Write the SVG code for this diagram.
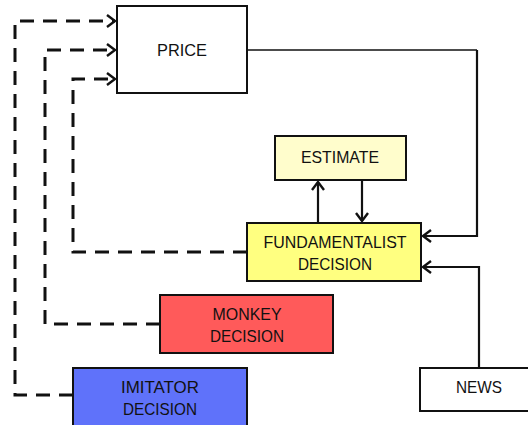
<svg xmlns="http://www.w3.org/2000/svg" width="528" height="425" viewBox="0 0 528 425">
  <defs>
    <style>
      .box { stroke: #111; stroke-width: 2; }
      .label { font-family: "Liberation Sans", Arial, sans-serif; font-size: 16.5px; fill: #111; text-anchor: middle; dominant-baseline: central; }
      .solid { fill: none; stroke: #111; stroke-width: 2.2; }
      .thin { stroke-width: 1.6; }
      .dashed { fill: none; stroke: #111; stroke-width: 3; stroke-dasharray: 14 9; }
    </style>
    <marker id="chev" markerUnits="userSpaceOnUse" viewBox="0 0 12 14" refX="10" refY="7" markerWidth="12" markerHeight="14" orient="auto">
      <path d="M2,1 L10,7 L2,13" fill="none" stroke="#111" stroke-width="2.4" stroke-dasharray="none"/>
    </marker>
  </defs>
  <rect width="528" height="425" fill="#fff"/>

  <!-- connectors -->
  <g id="connectors">
    <!-- feedback from each decision to price -->
    <path class="dashed" d="M73,395 H15 V21 H115" marker-end="url(#chev)"/>
    <path class="dashed" d="M160,324 H45 V50 H115" marker-end="url(#chev)"/>
    <path class="dashed" d="M247,252 H73 V79 H115" marker-end="url(#chev)"/>
    <!-- price to fundamentalist -->
    <path class="solid thin" d="M247,50 H477"/>
    <path class="solid" d="M477,50 V236 H423" marker-end="url(#chev)"/>
    <!-- news to fundamentalist -->
    <path class="solid" d="M479,368 V267 H423" marker-end="url(#chev)"/>
    <!-- fundamentalist <-> estimate -->
    <path class="solid" d="M318,223 V182" marker-end="url(#chev)"/>
    <path class="solid" d="M362,180 V221" marker-end="url(#chev)"/>
  </g>

  <g id="price">
    <rect class="box" x="117" y="6" width="130" height="87" fill="#fff"/>
    <text class="label" x="182" y="50" textLength="50" lengthAdjust="spacingAndGlyphs">PRICE</text>
  </g>
  <g id="estimate">
    <rect class="box" x="275" y="136" width="131" height="44" fill="#FFFDCC"/>
    <text class="label" x="340" y="157" textLength="78" lengthAdjust="spacingAndGlyphs">ESTIMATE</text>
  </g>
  <g id="fundamentalist">
    <rect class="box" x="247" y="223" width="174" height="58" fill="#FFFF80"/>
    <text class="label" x="335" y="242" textLength="143" lengthAdjust="spacingAndGlyphs">FUNDAMENTALIST</text>
    <text class="label" x="335" y="264" textLength="74" lengthAdjust="spacingAndGlyphs">DECISION</text>
  </g>
  <g id="monkey">
    <rect class="box" x="160" y="295" width="173" height="58" fill="#FF5A5A"/>
    <text class="label" x="247" y="314" textLength="69" lengthAdjust="spacingAndGlyphs">MONKEY</text>
    <text class="label" x="247" y="336" textLength="74" lengthAdjust="spacingAndGlyphs">DECISION</text>
  </g>
  <g id="imitator">
    <rect class="box" x="73" y="368" width="174" height="60" fill="#5F72FA"/>
    <text class="label" x="160" y="387" textLength="78" lengthAdjust="spacingAndGlyphs">IMITATOR</text>
    <text class="label" x="160" y="409" textLength="74" lengthAdjust="spacingAndGlyphs">DECISION</text>
  </g>
  <g id="news">
    <rect class="box" x="420" y="368" width="112" height="43" fill="#fff"/>
    <text class="label" x="479" y="387" textLength="46" lengthAdjust="spacingAndGlyphs">NEWS</text>
  </g>
</svg>
